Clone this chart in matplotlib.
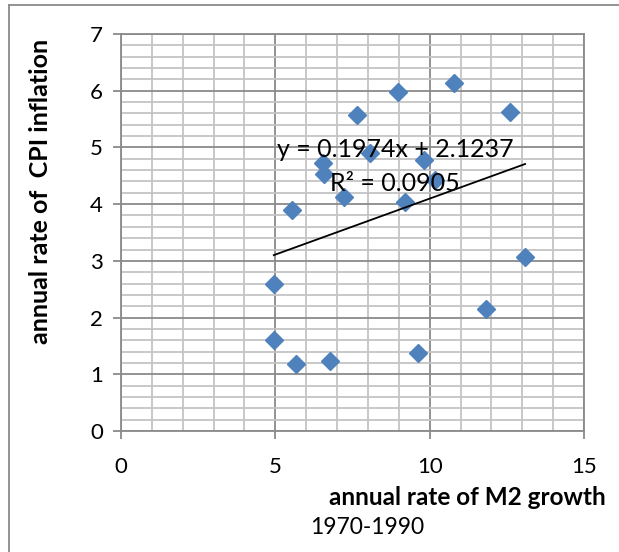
import matplotlib.pyplot as plt
import matplotlib.lines as mlines
from matplotlib.ticker import MultipleLocator
import numpy as np

plt.rcParams['font.family'] = ['Lato', 'DejaVu Sans']

# annual M2 growth vs CPI inflation, 1970-1990
m2_growth = [4.95, 4.96, 5.67, 6.77, 5.53, 6.55, 6.58, 7.22, 7.63, 8.06,
             8.98, 9.21, 9.83, 10.17, 9.62, 11.84, 13.09, 10.80, 12.61]
cpi_inflation = [2.60, 1.60, 1.18, 1.23, 3.90, 4.72, 4.53, 4.12, 5.58, 4.90,
                 5.97, 4.03, 4.78, 4.43, 1.38, 2.15, 3.07, 6.14, 5.63]

# linear trendline coefficients
slope = 0.1974
intercept = 2.1237
r_squared = 0.0905

x_ticks = [0, 5, 10, 15]
y_ticks = [0, 1, 2, 3, 4, 5, 6, 7]

fig = plt.figure(figsize=(6.19, 5.52), dpi=100)
ax = fig.add_axes([0.1955, 0.2192, 0.748, 0.7192])

ax.set_xlim(0, 15)
ax.set_ylim(0, 7)
ax.set_xticks(x_ticks)
ax.set_yticks(y_ticks)
ax.xaxis.set_minor_locator(MultipleLocator(1))
ax.yaxis.set_minor_locator(MultipleLocator(0.2))

ax.grid(which='major', color='#8a8a8a', linewidth=1.3, zorder=0)
ax.grid(which='minor', color='#c4c4c4', linewidth=1.3, zorder=0)
ax.set_axisbelow(True)
for side in ['left', 'bottom', 'right', 'top']:
    ax.spines[side].set_color('#8a8a8a')
    ax.spines[side].set_linewidth(1.3)

ax.tick_params(which='major', length=6, width=1.3, color='#8a8a8a',
               labelsize=16, pad=7)
ax.tick_params(axis='x', which='major', pad=13)
ax.tick_params(which='minor', length=0)

ax.plot(m2_growth, cpi_inflation, linestyle='none', marker='D',
        markersize=9.5, color='#4f81bd', zorder=3)

xs = np.array([min(m2_growth), max(m2_growth)])
ax.plot(xs, slope * xs + intercept, color='black', linewidth=1.3, zorder=4)

ax.text(5.05, 4.96, f'y = {slope}x + {intercept}', fontsize=18,
        va='center', ha='left', zorder=5)
ax.text(6.77, 4.36, f'R² = {r_squared}', fontsize=18,
        va='center', ha='left', zorder=5)

fig.text(0.978, 0.0996, 'annual rate of M2 growth', fontsize=17.5,
         fontweight='bold', ha='right', va='center')
fig.text(0.593, 0.044, '1970-1990', fontsize=16.5, ha='center', va='center')
fig.text(0.066, 0.653, 'annual rate of  CPI inflation', fontsize=18,
         fontweight='bold', rotation=90, ha='center', va='center')

# chart border (only top and left edges fall inside the image)
fig.add_artist(mlines.Line2D([0.0145, 1.0], [0.991, 0.991], color='#8a8a8a',
                             linewidth=1.3, transform=fig.transFigure))
fig.add_artist(mlines.Line2D([0.0145, 0.0145], [0.0, 0.991], color='#8a8a8a',
                             linewidth=1.3, transform=fig.transFigure))

fig.savefig('out.png', dpi=100)
